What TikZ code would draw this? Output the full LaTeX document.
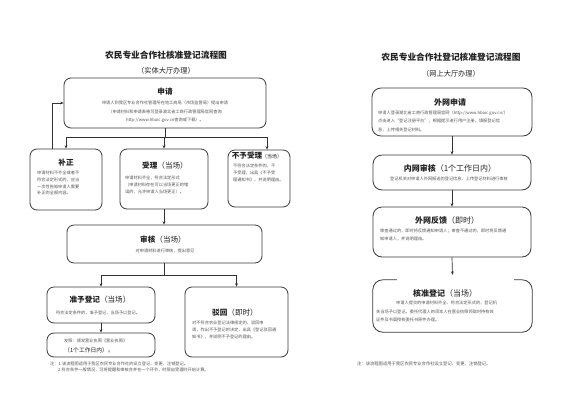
\documentclass[tikz,border=0pt]{standalone}
\usepackage{fontspec}
\setmainfont{Noto Sans CJK SC}
\usetikzlibrary{arrows.meta}
\definecolor{titc}{HTML}{222222}
\definecolor{bodyc}{HTML}{555555}
\definecolor{boxc}{HTML}{3A3A3A}
\definecolor{linec}{HTML}{333333}
\begin{document}
\begin{tikzpicture}[x=1pt,y=-1pt,
 box/.style={draw=boxc, line width=0.8pt, rounded corners=7pt, inner sep=0pt},
 rbox/.style={draw=boxc, line width=0.8pt, rounded corners=9pt, inner sep=0pt},
 arr/.style={draw=linec, line width=0.7pt, -{Stealth[length=3.4pt,width=2.8pt]}},
 ln/.style={draw=linec, line width=0.7pt},
 ttl/.style={font=\fontsize{8.7}{10}\selectfont\bfseries, text=titc, inner sep=0pt},
 sub/.style={font=\fontsize{7.2}{9}\selectfont, text=titc, inner sep=0pt},
 hd/.style={font=\fontsize{7.6}{9}\selectfont, text=titc, inner sep=0pt},
 bd/.style={font=\fontsize{4.2}{6.8}\selectfont, text=bodyc, inner sep=0pt, align=left},
 bdc/.style={font=\fontsize{4.2}{8.5}\selectfont, text=bodyc, inner sep=0pt, align=center},
]
\useasboundingbox[fill=white] (0,0) rectangle (565,400);

% ---------------- left chart ----------------
\node[ttl] (t1) at (166,55) {农民专业合作社核准登记流程图};
\node[sub] (t1s) at (166,71) {（实体大厅办理）};

\node[box, minimum width=202pt, minimum height=50pt] (sq) at (165,103) {};
\node[box, minimum width=72pt, minimum height=61pt] (bz) at (66,179.5) {};
\node[box, minimum width=88pt, minimum height=60pt] (sl) at (164,179) {};
\node[box, minimum width=62pt, minimum height=57pt] (byl) at (259,178.5) {};
\node[box, minimum width=195pt, minimum height=38pt] (sh) at (164.5,244) {};
\node[box, minimum width=108pt, minimum height=36pt] (zy) at (101,305) {};
\node[box, minimum width=108pt, minimum height=24pt] (fz) at (101,345) {};
\node[box, minimum width=103pt, minimum height=70pt] (bh) at (236.5,322) {};

\node[hd] (sqh) at (165,92) {\textbf{申请}};
\node[bdc] (sqb) at (165,112) {申请人到我区专业合作社管理所在地工商局（市场监管局）提出申请\\（申请材料和申请表格可登录湖北省工商行政管理局官网查询\\http://www.hbaic.gov.cn查询或下载）。};

\node[hd] (bzh) at (66,163) {\textbf{补正}};
\node[bd, anchor=west] (bzb) at (37,183) {申请材料不齐全或者不\\符合法定形式的，应当\\一次性告知申请人需要\\补正的全部内容。};

\node[hd] (slh) at (165,166) {\textbf{受理}（当场）};
\node[bd, anchor=west] (slb) at (125,185) {申请材料齐全，符合法定形式\\（申请材料存在可以当场更正的错\\误的，允许申请人当场更正）。};

\node[hd] (bylh) at (257,156) {\textbf{不予受理}{\fontsize{5}{6}\selectfont（当场）}};
\node[bd, anchor=west] (bylb) at (233,173) {不符合法定条件的，不\\予受理，出具《不予受\\理通知书》，并说明理由。};

\node[hd] (shh) at (163,240) {\textbf{审核}（当场）};
\node[bdc] (shb) at (165,251) {对申请材料进行审核，提出意见};

\node[hd] (zyh) at (100,300) {\textbf{准予登记}（当场）};
\node[bdc] (zyb) at (98,313) {符合法定条件的，准予登记，当场予以登记。};

\node[bd, anchor=west] (fz1) at (64,341) {发照：颁发营业执照《营业执照》};
\node[font=\fontsize{5.8}{7}\selectfont, text=titc, inner sep=0pt, anchor=west] (fz2) at (64,350.5) {（1个工作日内）。};

\node[hd] (bhh) at (235,313) {\textbf{驳回}（即时）};
\node[bd, anchor=west] (bhb) at (192,330) {对不符合农业登记法律规定的，驳回申\\请，作出不予登记的决定，出具《登记驳回通\\知书》，并说明不予登记的理由。};

\node[bd, anchor=north west, font=\fontsize{4.2}{6.2}\selectfont] (n1) at (50,361.5) {注：1.该流程图适用于我区农民专业合作社的设立登记、变更、注销登记。\\\hspace{8pt}2.符合条件一般情况，可将提醒和审核合并在一个环节，时限自受理时开始计算。};

\coordinate (j1) at (0,137);
\coordinate (jr) at (267,137);
\coordinate (j2) at (0,275);
\draw[ln] (sq.south) -- (sq.south |- j1);
\draw[ln] (bz.north |- j1) -- (jr);
\draw[arr] (bz.north |- j1) -- (bz.north);
\draw[arr] (sl.north |- j1) -- (sl.north);
\draw[arr] (jr) -- (jr |- byl.north);
\draw[arr] ([xshift=-14pt]bz.north) |- (sq.west);
\draw[arr] (sl.south) -- (sl.south |- sh.north);
\draw[ln] (sh.south) -- (sh.south |- j2);
\draw[ln] (zy.north |- j2) -- (bh.north |- j2);
\draw[arr] (zy.north |- j2) -- (zy.north);
\draw[arr] (bh.north |- j2) -- (bh.north);
\draw[arr] (zy.south) -- (fz.north);

% ---------------- right chart ----------------
\node[ttl] (t2) at (451,57) {农民专业合作社登记核准登记流程图};
\node[sub] (t2s) at (451,74) {（网上大厅办理）};

\node[rbox, minimum width=160pt, minimum height=48pt] (ws) at (452,112) {};
\node[rbox, minimum width=158pt, minimum height=35pt] (nw) at (452,172.5) {};
\node[rbox, minimum width=158pt, minimum height=50pt] (wf) at (452,232) {};
\node[inner sep=0pt, minimum width=159pt, minimum height=52pt] (hz) at (452.5,306) {};
\draw[draw=boxc, line width=0.8pt, rounded corners=10pt] ([xshift=24pt]hz.north west) -- (hz.north west) -- (hz.south west) -- (hz.south east) -- (hz.north east) -- ([xshift=-18pt]hz.north east);

\node[hd, font=\fontsize{8}{9}\selectfont] (wsh) at (450,102) {\textbf{外网申请}};
\node[bd, anchor=west, font=\fontsize{4.2}{8.5}\selectfont] (wsb) at (378,121) {申请人登录湖北省工商行政管理局官网（http://www.hbaic.gov.cn/）\\点击进入“登记注册平台”，根据提示进行用户注册，填报登记信\\息，上传相关登记材料。};

\node[hd, font=\fontsize{8}{9}\selectfont] (nwh) at (450,168) {\textbf{内网审核}（1个工作日内）};
\node[bdc] (nwb) at (449,179) {登记机关对申请人外网报送的登记信息、上传登记材料进行审核};

\node[hd, font=\fontsize{8}{9}\selectfont] (wfh) at (447,220) {\textbf{外网反馈}（即时）};
\node[bd, anchor=west, font=\fontsize{4.2}{8}\selectfont] (wfb) at (380,235) {审查通过的，即时将反馈通知申请人；审查不通过的，即时将反馈通\\知申请人，并说明理由。};

\node[hd, font=\fontsize{8}{9}\selectfont] (hzh) at (445,293) {\textbf{核准登记}（当场）};
\node[bd, anchor=west, font=\fontsize{4.2}{8.2}\selectfont] (hzb) at (376,311.5) {\hspace{20pt}申请人提交的申请材料齐全、符合法定形式的，登记机\\关当场予以登记。委托代理人的须本人在营业执照领取时持有效\\证件及书面授权委托书原件办理。};

\node[bd, anchor=west, font=\fontsize{4.3}{6}\selectfont] (n2) at (357,364) {注：该流程图适用于我区农民专业合作社设立登记、变更、注销登记。};

\draw[arr] (ws.south) -- (nw.north);
\draw[arr] (nw.south) -- (wf.north);
\draw[arr] (wf.south) -- ([yshift=5pt]hz.north);
\end{tikzpicture}
\end{document}
